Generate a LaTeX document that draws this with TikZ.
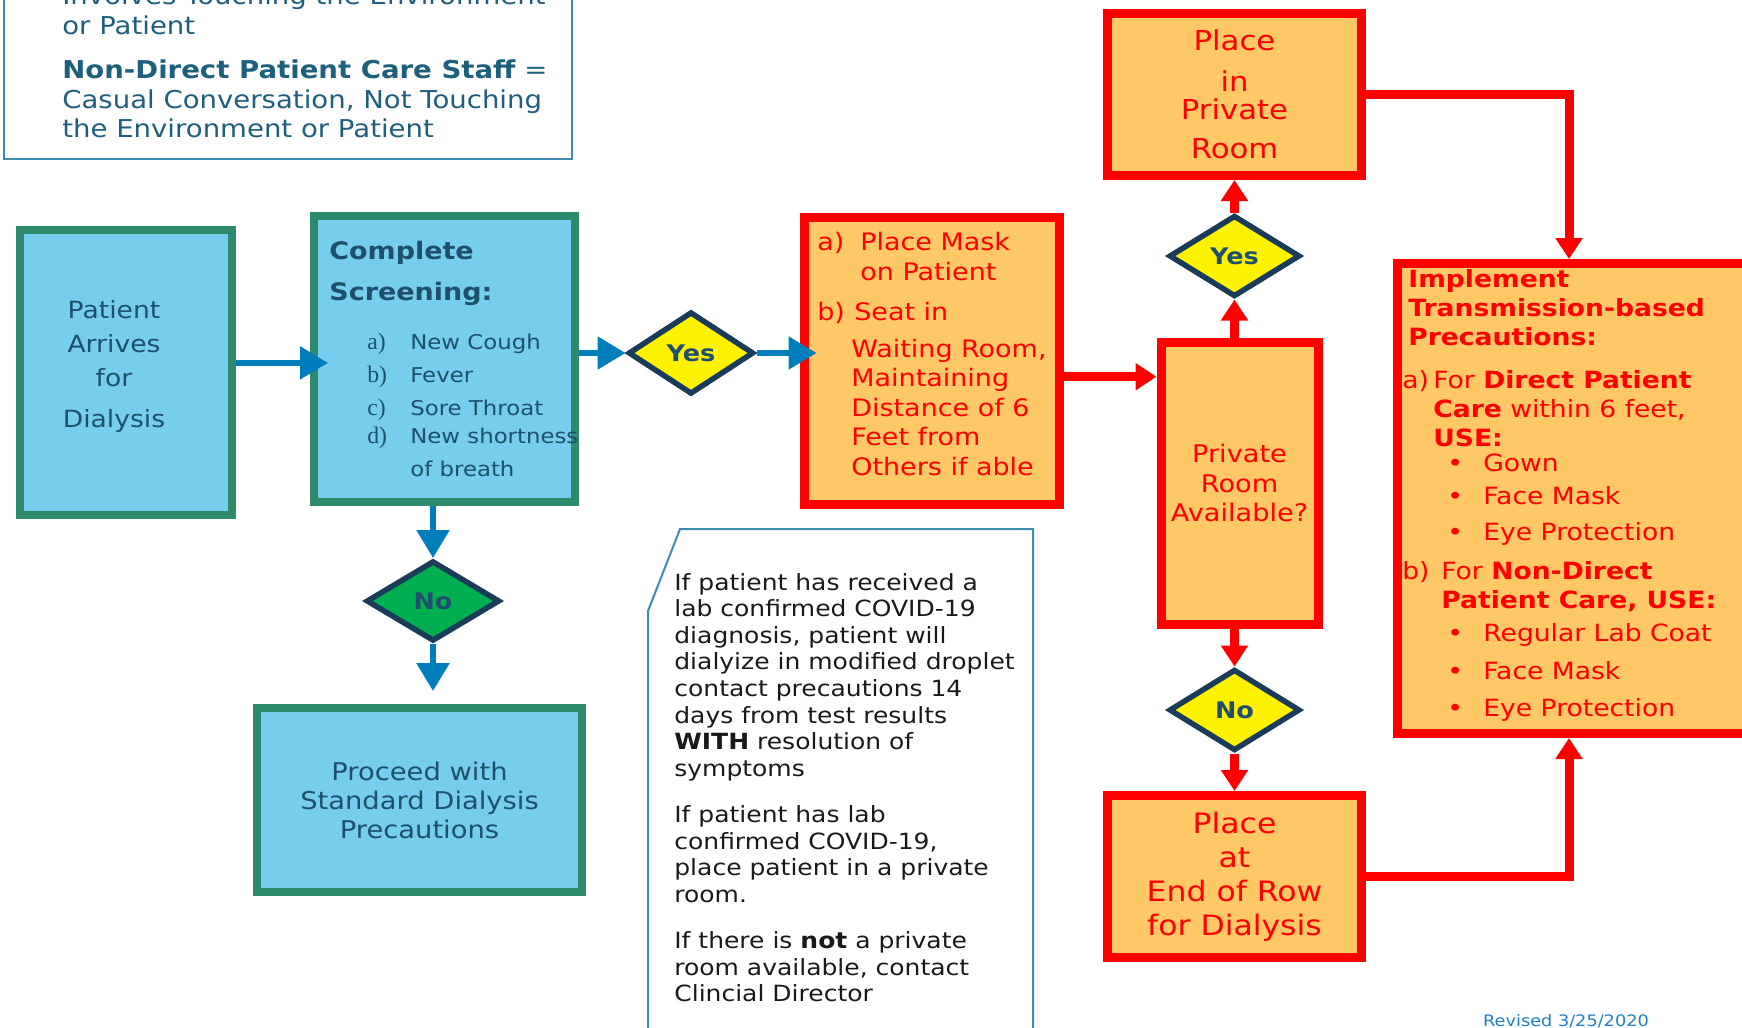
\documentclass[tikz,border=0pt]{standalone}
\usepackage{fontspec}
\setmainfont[FakeStretch=1.12]{DejaVu Sans}
\newfontfamily\serf{Liberation Serif}
\usepackage{tikz}
\usetikzlibrary{positioning,shapes.geometric,arrows.meta}
\usepackage{xcolor}

\definecolor{boxblue}{RGB}{119,205,237}
\definecolor{boxgreen}{RGB}{46,138,108}
\definecolor{flowblue}{RGB}{0,126,188}
\definecolor{textnavy}{RGB}{30,80,110}
\definecolor{diamondnavy}{RGB}{25,60,90}
\definecolor{nogreen}{RGB}{0,176,80}
\definecolor{boxorange}{RGB}{254,200,102}
\definecolor{noteline}{RGB}{60,140,180}
\definecolor{notetext}{RGB}{30,95,125}
\definecolor{revblue}{RGB}{30,130,200}

\newcommand{\itemlab}[1]{\makebox[0.86cm][l]{\serf\fontsize{13.5}{18.8}\selectfont #1}}
\newcommand{\bulletline}[1]{\hspace*{0.9cm}\makebox[0.72cm][l]{\textbullet}#1}

\begin{document}
\begin{tikzpicture}[
    bluebox/.style={draw=boxgreen, fill=boxblue, line width=0.16cm, text=textnavy, align=center},
    orangebox/.style={draw=red, fill=boxorange, line width=0.18cm, text=red, align=center},
    choice/.style={diamond, draw=diamondnavy, line width=0.11cm, text=textnavy,
                   font=\fontsize{13}{15}\selectfont\bfseries, inner sep=0pt,
                   minimum width=2.62cm, minimum height=1.63cm},
    textblock/.style={inner sep=0pt, align=left, anchor=north west},
    bluearrow/.style={draw=flowblue, line width=0.11cm, -{Triangle[width=0.64cm,length=0.56cm]}},
    redarrow/.style={draw=red, line width=0.18cm, -{Triangle[width=0.52cm,length=0.42cm]}}
  ]
  \path[use as bounding box, fill=white] (0,0) rectangle (34.84,-20.54);

  % staff note (top left, runs off the page)
  \node[draw=noteline, line width=0.04cm, anchor=south west,
        minimum width=11.36cm, minimum height=4.4cm] (staffbox) at (0.06,-3.2) {};
  \node[textblock, text=notetext, font=\fontsize{14}{16.8}\selectfont] (stafftext) at (1.24,0.29)
    {Involves Touching the Environment\\or Patient\\[8.5pt]
     \textbf{Non-Direct Patient Care Staff} =\\Casual Conversation, Not Touching\\the Environment or Patient};

  % screening column
  \node[bluebox, minimum width=4.24cm, minimum height=5.7cm] (patient) at (2.52,-7.45) {};
  \node[text=textnavy, align=center, font=\fontsize{13.5}{19.5}\selectfont,
        xshift=-0.24cm, yshift=0.12cm] (patienttext) at (patient) {Patient\\Arrives\\for\\[4pt]Dialysis};
  \node[bluebox, minimum width=5.22cm, minimum height=5.72cm] (screen) at (8.89,-7.18) {};
  \node[textblock, text=textnavy, font=\fontsize{11.6}{18.8}\selectfont] (screentext) at (6.58,-4.81)
    {{\fontsize{13.7}{18.8}\selectfont\bfseries Complete}\\[4.5pt]
     {\fontsize{13.7}{18.8}\selectfont\bfseries Screening:}\\[9.1pt]
     \hspace*{0.76cm}\itemlab{a)}New Cough\\
     \hspace*{0.76cm}\itemlab{b)}Fever\\
     \hspace*{0.76cm}\itemlab{c)}Sore Throat\\[-2.9pt]
     \hspace*{0.76cm}\itemlab{d)}New shortness\\
     \hspace*{1.62cm}of breath};

  \node[choice, fill=yellow, minimum width=2.51cm, minimum height=1.65cm,
        right=0.93cm of screen, yshift=0.12cm] (yesA) {Yes};
  \node[choice, fill=nogreen, minimum width=2.67cm, minimum height=1.61cm,
        below=1.04cm of screen, xshift=-0.23cm] (noA) {No};
  \node[bluebox, minimum width=6.5cm, minimum height=3.68cm, font=\fontsize{13.9}{16.5}\selectfont] (proceed)
    at (8.39,-16.0) {Proceed with\\Standard Dialysis\\Precautions};

  % mask and seat
  \node[orangebox, minimum width=5.1cm, minimum height=5.74cm] (seat) at (18.63,-7.21) {};
  \node[textblock, text=red, font=\fontsize{13.7}{16.8}\selectfont] (seattext) at (16.34,-4.64)
    {\makebox[0.86cm][l]{a)}Place Mask\\
     \hspace*{0.86cm}on Patient\\[6pt]
     \makebox[0.74cm][l]{b)}Seat in\\[4.3pt]
     \hspace*{0.68cm}Waiting Room,\\
     \hspace*{0.68cm}Maintaining\\
     \hspace*{0.68cm}Distance of 6\\
     \hspace*{0.68cm}Feet from\\
     \hspace*{0.68cm}Others if able};

  % covid note
  \draw[noteline, line width=0.04cm] (13.6,-10.58) -- (20.66,-10.58) -- (20.66,-20.8)
    -- (12.96,-20.8) -- (12.96,-12.22) -- cycle;
  \node[textblock, text=black!90, font=\fontsize{12.7}{15.1}\selectfont] (covidtext) at (13.48,-11.46)
    {If patient has received a\\lab confirmed COVID-19\\diagnosis, patient will\\
     dialyize in modified droplet\\contact precautions 14\\days from test results\\
     \textbf{WITH} resolution of\\symptoms\\[11.4pt]
     If patient has lab\\confirmed COVID-19,\\place patient in a private\\room.\\[11.4pt]
     If there is \textbf{not} a private\\room available, contact\\Clincial Director};

  % private room column
  \node[orangebox, minimum width=3.14cm, minimum height=5.64cm, font=\fontsize{13.8}{16.8}\selectfont] (private)
    at (24.79,-9.66) {Private\\Room\\Available?};
  \node[orangebox, minimum width=5.08cm, minimum height=3.24cm, font=\fontsize{15.6}{16}\selectfont] (placeroom)
    at (24.69,-1.89) {Place\\[7.3pt]in\\Private\\[6.2pt]Room};
  \node[choice, fill=yellow, below=0.65cm of placeroom] (yesB) {Yes};
  \node[orangebox, minimum width=5.08cm, minimum height=3.24cm, font=\fontsize{16}{19.4}\selectfont] (endrow)
    at (24.69,-17.53) {Place\\at\\End of Row\\for Dialysis};
  \node[choice, fill=yellow, above=0.75cm of endrow] (noB) {No};

  % precautions
  \node[orangebox, anchor=north west, minimum width=8cm, minimum height=9.4cm] (implement) at (27.86,-5.18) {};
  \node[textblock, text=red, font=\fontsize{13.5}{16.4}\selectfont] (implementtext) at (28.04,-5.39)
    {\hspace*{0.12cm}\textbf{Implement}\\
     \hspace*{0.12cm}\textbf{Transmission-based}\\
     \hspace*{0.12cm}\textbf{Precautions:}\\[8pt]
     \makebox[0.62cm][l]{a)}For \textbf{Direct Patient}\\
     \hspace*{0.62cm}\textbf{Care} within 6 feet,\\
     \hspace*{0.62cm}\textbf{USE:}\\[-1.7pt]
     \bulletline{Gown}\\[2.3pt]
     \bulletline{Face Mask}\\[4pt]
     \bulletline{Eye Protection}\\[5.7pt]
     \makebox[0.78cm][l]{b)}For \textbf{Non-Direct}\\
     \hspace*{0.78cm}\textbf{Patient Care, USE:}\\[2.3pt]
     \bulletline{Regular Lab Coat}\\[5.7pt]
     \bulletline{Face Mask}\\[4.6pt]
     \bulletline{Eye Protection}};
  \path (implement.north west) ++(3.52,0) coordinate (drop);
  \path (implement.south west) ++(3.52,0) coordinate (rise);

  \node[text=revblue, font=\fontsize{9}{10}\selectfont, anchor=base] (revised) at (31.32,-20.52) {Revised 3/25/2020};

  % connectors
  \draw[bluearrow, shorten >=-0.36cm] (patient.5) -- (patient.5 -| screen.west);
  \draw[bluearrow] (yesA.west -| screen.east) -- (yesA.west);
  \draw[bluearrow, shorten >=-0.34cm] (yesA.east) -- (yesA.east -| seat.west);
  \draw[bluearrow] (noA.north |- screen.south) -- (noA.north);
  \draw[bluearrow, shorten >=0.26cm] (noA.south) -- (noA.south |- proceed.north);

  \draw[redarrow] (seat.-7) -- (seat.-7 -| private.west);
  \draw[redarrow] (private.north -| yesB.south) -- (yesB.south);
  \draw[redarrow] (yesB.north) -- (yesB.north |- placeroom.south);
  \draw[redarrow] (private.south -| noB.north) -- (noB.north);
  \draw[redarrow] (noB.south) -- (noB.south |- endrow.north);
  \draw[redarrow] (placeroom.east) -| (drop);
  \draw[redarrow] (endrow.east) -| (rise);
\end{tikzpicture}
\end{document}
